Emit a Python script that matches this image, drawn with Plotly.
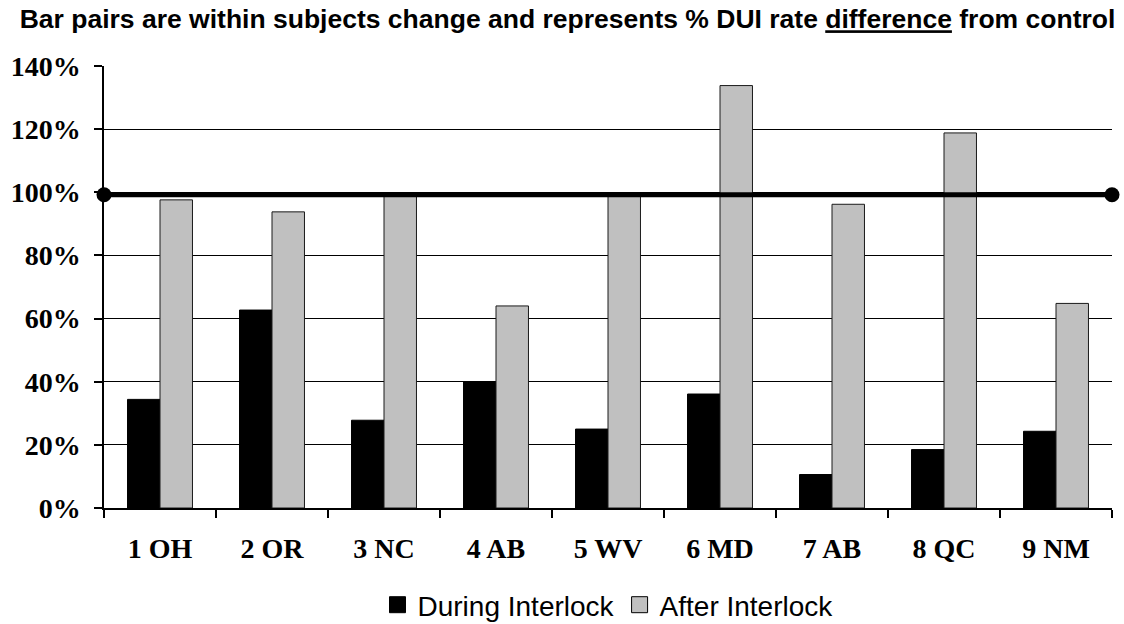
import plotly.graph_objects as go

categories = ["1 OH", "2 OR", "3 NC", "4 AB", "5 WV", "6 MD", "7 AB", "8 QC", "9 NM"]
during_interlock = [0.344, 0.627, 0.278, 0.399, 0.250, 0.361, 0.106, 0.185, 0.243]
after_interlock = [0.976, 0.938, 0.992, 0.640, 0.992, 1.338, 0.962, 1.188, 0.648]
control_x = [0, 1]
control_y = [0.992, 0.992]
y_ticks = [0, 0.2, 0.4, 0.6, 0.8, 1.0, 1.2, 1.4]

W, H = 1124, 624

fig = go.Figure()
fig.add_trace(go.Bar(
    x=categories, y=during_interlock, name="During Interlock",
    marker=dict(color="#000000", line=dict(color="#000000", width=1)),
    showlegend=False,
))
fig.add_trace(go.Bar(
    x=categories, y=after_interlock, name="After Interlock",
    marker=dict(color="#C0C0C0", line=dict(color="#1a1a1a", width=1)),
    showlegend=False,
))
fig.add_trace(go.Scatter(
    x=control_x, y=control_y, xaxis="x2", mode="lines+markers",
    line=dict(color="#000000", width=5), marker=dict(size=15, color="#000000"),
    showlegend=False, cliponaxis=False,
))
# legend entries (square swatches)
fig.add_trace(go.Scatter(
    x=[None], y=[None], mode="markers", name="During Interlock",
    marker=dict(symbol="square", size=16, color="#000000", line=dict(color="#000000", width=1)),
))
fig.add_trace(go.Scatter(
    x=[None], y=[None], mode="markers", name="After Interlock",
    marker=dict(symbol="square", size=16, color="#C0C0C0", line=dict(color="#000000", width=1)),
))

fig.update_layout(
    width=W, height=H,
    margin=dict(l=104, r=12, t=66, b=116),
    paper_bgcolor="white", plot_bgcolor="white",
    barmode="group", bargap=0.42, bargroupgap=0,
    title=dict(
        text="Bar pairs are within subjects change and represents % DUI rate <u>difference</u> from control",
        font=dict(family="Liberation Sans", size=26.5, color="#000000", weight="bold"),
        x=567.5 / W, xanchor="center", xref="container",
        y=1 - 19 / H, yanchor="middle", yref="container",
    ),
    xaxis=dict(
        type="category", showgrid=False, showline=True, linecolor="#000000", linewidth=1.5,
        ticks="outside", tickson="boundaries", ticklen=8, tickcolor="#000000", tickwidth=1.5,
        tickfont=dict(family="Liberation Serif", size=28, color="#000000", weight="bold"),
        ticklabelstandoff=15, automargin=False,
    ),
    xaxis2=dict(overlaying="x", range=[0, 1], visible=False),
    yaxis=dict(
        range=[0, 1.4], tickvals=y_ticks, tickformat=".0%",
        showgrid=True, gridcolor="#000000", gridwidth=1,
        showline=True, linecolor="#000000", linewidth=1.5,
        ticks="outside", ticklen=8, tickcolor="#000000", tickwidth=1.5,
        tickfont=dict(family="Liberation Serif", size=28, color="#000000", weight="bold"),
        ticklabelstandoff=8, zeroline=False, automargin=False,
    ),
    legend=dict(
        orientation="h", x=0.5, xanchor="center", xref="paper",
        y=1 - 605 / H, yanchor="middle", yref="container",
        font=dict(family="Liberation Sans", size=28, color="#000000"),
        itemsizing="trace", itemwidth=30, tracegroupgap=0,
    ),
)

fig.write_html(
    "out.html",
    config={"displayModeBar": False},
    post_script="document.body.style.margin='0';",
)
